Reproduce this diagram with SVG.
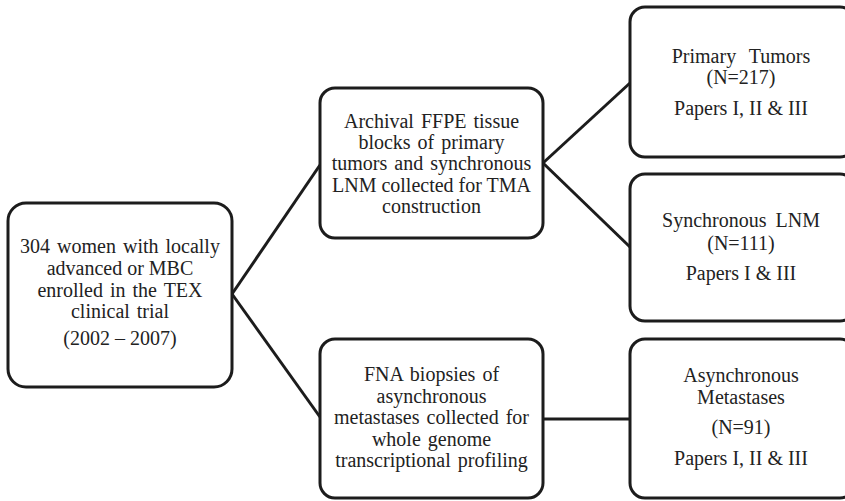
<svg xmlns="http://www.w3.org/2000/svg" width="845" height="501" viewBox="0 0 845 501">
<style>
.box{fill:#fff;stroke:#1c1c1c;stroke-width:3}
.edge{stroke:#1c1c1c;stroke-width:3;fill:none}
.t{font-size:20px;fill:#222;text-anchor:middle}
</style>
<rect width="845" height="501" fill="#fff"/>
<g id="connectors">
<line class="edge" x1="232" y1="294" x2="320" y2="165"/>
<line class="edge" x1="232" y1="294" x2="320" y2="417"/>
<line class="edge" x1="543" y1="163" x2="630" y2="83"/>
<line class="edge" x1="543" y1="163" x2="630" y2="247"/>
<line class="edge" x1="543" y1="419" x2="630" y2="419"/>
</g>
<g font-family="Liberation Serif, Times New Roman, serif">
<g id="cohort">
<rect class="box" x="8" y="203" width="224" height="184" rx="18"/>
<text class="t" x="120" y="253" word-spacing="2">304 women with locally</text>
<text class="t" x="120" y="275">advanced or MBC</text>
<text class="t" x="120" y="297" word-spacing="2">enrolled in the TEX</text>
<text class="t" x="120" y="318" word-spacing="2">clinical trial</text>
<text class="t" x="120" y="345">(2002 – 2007)</text>
</g>
<g id="ffpe">
<rect class="box" x="320" y="88" width="223" height="150" rx="15"/>
<text class="t" x="431.5" y="128" word-spacing="2">Archival FFPE tissue</text>
<text class="t" x="431.5" y="149" word-spacing="2">blocks of primary</text>
<text class="t" x="431.5" y="170" word-spacing="2">tumors and synchronous</text>
<text class="t" x="431.5" y="192">LNM collected for TMA</text>
<text class="t" x="431.5" y="213">construction</text>
</g>
<g id="fna">
<rect class="box" x="320" y="339" width="223" height="159" rx="15"/>
<text class="t" x="431.5" y="381" word-spacing="2">FNA biopsies of</text>
<text class="t" x="431.5" y="402.5">asynchronous</text>
<text class="t" x="431.5" y="424" word-spacing="2">metastases collected for</text>
<text class="t" x="431.5" y="445.5" word-spacing="2">whole genome</text>
<text class="t" x="431.5" y="467" word-spacing="2">transcriptional profiling</text>
</g>
<g id="primary">
<rect class="box" x="630" y="7" width="225" height="150" rx="15"/>
<text class="t" x="741" y="63" word-spacing="8">Primary Tumors</text>
<text class="t" x="741" y="84">(N=217)</text>
<text class="t" x="741" y="115">Papers I, II &amp; III</text>
</g>
<g id="lnm">
<rect class="box" x="630" y="174" width="225" height="147" rx="15"/>
<text class="t" x="741" y="227" word-spacing="4">Synchronous LNM</text>
<text class="t" x="741" y="250">(N=111)</text>
<text class="t" x="741" y="280">Papers I &amp; III</text>
</g>
<g id="async">
<rect class="box" x="630" y="339" width="225" height="159" rx="15"/>
<text class="t" x="741" y="382">Asynchronous</text>
<text class="t" x="741" y="404">Metastases</text>
<text class="t" x="741" y="434">(N=91)</text>
<text class="t" x="741" y="465">Papers I, II &amp; III</text>
</g>
</g>
</svg>
